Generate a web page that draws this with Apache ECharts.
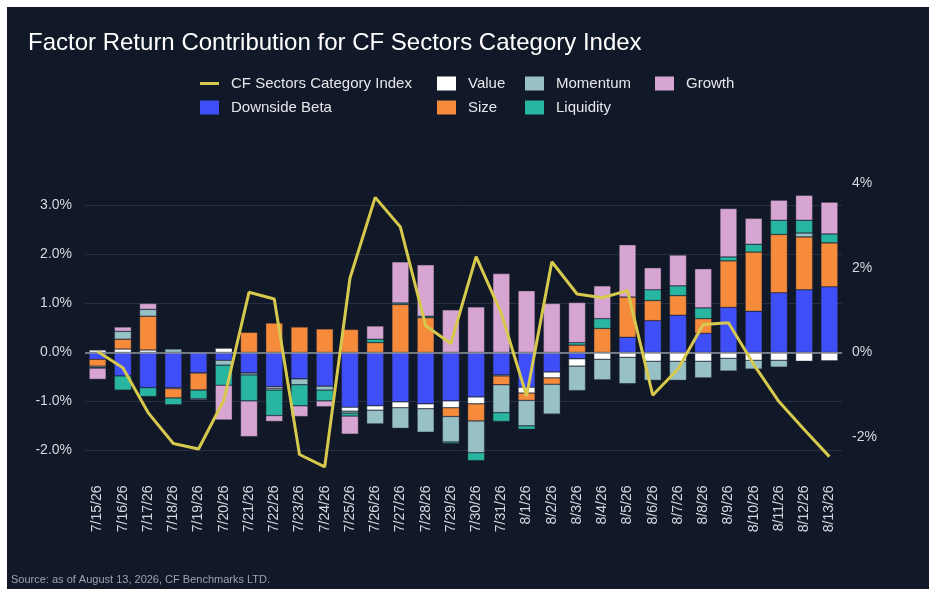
<!DOCTYPE html>
<html>
<head>
<meta charset="utf-8">
<title>Factor Return Contribution</title>
<script src="https://cdn.jsdelivr.net/npm/echarts@6/dist/echarts.min.js"></script>
<style>
  html, body { margin: 0; padding: 0; background: #ffffff; }
  #panel { position: absolute; left: 7px; top: 7px; width: 922px; height: 582px; background: #111827; }
  #chartmain { position: absolute; left: 0; top: 0; width: 936px; height: 598px; }
</style>
</head>
<body>
<div id="panel"></div>
<div id="chartmain"></div>
<script>
// 日期
var dates = ['7/15/26', '7/16/26', '7/17/26', '7/18/26', '7/19/26', '7/20/26', '7/21/26', '7/22/26',
    '7/23/26', '7/24/26', '7/25/26', '7/26/26', '7/27/26', '7/28/26', '7/29/26', '7/30/26', '7/31/26',
    '8/1/26', '8/2/26', '8/3/26', '8/4/26', '8/5/26', '8/6/26', '8/7/26', '8/8/26', '8/9/26',
    '8/10/26', '8/11/26', '8/12/26', '8/13/26'];

// 因子贡献 (%)
var downsideBeta = [-0.14, -0.48, -0.72, -0.72, -0.42, -0.16, -0.42, -0.70, -0.54, -0.69, -1.12, -1.09, -1.01, -1.05, -0.99,
    -0.91, -0.46, -0.71, -0.40, -0.13, 0, 0.31, 0.65, 0.76, 0.39, 0.92, 0.84, 1.22, 1.28, 1.34];
var value = [0.05, 0.07, 0.05, -0.02, 0, 0.09, 0, -0.03, 0, 0, -0.08, -0.09, -0.12, -0.10, -0.14,
    -0.14, -0.02, -0.12, -0.12, -0.15, -0.14, -0.10, -0.18, -0.18, -0.18, -0.12, -0.16, -0.16, -0.18, -0.17];
var size = [-0.14, 0.20, 0.69, -0.19, -0.35, 0, 0.41, 0.60, 0.52, 0.48, 0.47, 0.20, 0.98, 0.71, -0.18,
    -0.35, -0.18, -0.15, -0.13, 0.15, 0.49, 0.82, 0.41, 0.40, 0.30, 0.95, 1.21, 1.19, 1.08, 0.90];
var momentum = [-0.03, 0.16, 0.14, 0.07, 0, -0.10, -0.04, -0.04, -0.12, -0.08, -0.04, -0.28, -0.42, -0.48, -0.52,
    -0.65, -0.57, -0.52, -0.61, -0.50, -0.42, -0.54, -0.39, -0.39, -0.34, -0.26, -0.18, -0.14, 0.08, 0];
var liquidity = [-0.01, -0.29, -0.18, -0.14, -0.18, -0.41, -0.53, -0.52, -0.43, -0.22, -0.06, 0.07, 0.03, 0.03, -0.03,
    -0.16, -0.18, -0.07, -0.01, 0.05, 0.20, -0.01, 0.22, 0.20, 0.22, 0.08, 0.16, 0.29, 0.26, 0.18];
var growth = [-0.23, 0.09, 0.12, 0, -0.02, -0.71, -0.73, -0.12, -0.22, -0.12, -0.37, 0.27, 0.84, 1.05, 0.87,
    0.93, 1.61, 1.26, 1.00, 0.82, 0.67, 1.07, 0.45, 0.63, 0.80, 0.99, 0.53, 0.41, 0.51, 0.65];

// 指数收益 (右轴, %)
var indexReturn = [0.02, -0.36, -1.42, -2.15, -2.28, -1.13, 1.42, 1.26, -2.41, -2.70, 1.75, 3.66, 2.96, 0.63, 0.21,
    2.26, 0.92, -1.03, 2.14, 1.38, 1.29, 1.46, -1.01, -0.39, 0.66, 0.70, -0.28, -1.16, -1.82, -2.46];

var indexName = 'CF Sectors Category Index';
var fontFamily = '"Liberation Sans", Arial, sans-serif';
var labelColor = '#d5d9df';
var lineColor = '#d6c94e';

// 右轴范围, 左轴按比例对齐零线
var rightMin = -3, rightMax = 4;
var ratio = 42.4 / 49;

function barSeries(name, data, color) {
    return {
        name: name,
        type: 'bar',
        stack: 'factor',
        barWidth: 17,
        data: data,
        itemStyle: { color: color, borderColor: 'rgba(40,46,60,0.8)', borderWidth: 0.5 },
        z: 2
    };
}

function legendCol(left, names) {
    return {
        orient: 'vertical',
        left: left,
        top: 76,
        icon: 'rect',
        itemWidth: 19,
        itemHeight: 14,
        itemGap: 9,
        padding: 0,
        data: names,
        itemStyle: { borderWidth: 0 },
        textStyle: { color: '#e5e7eb', fontSize: 15, fontFamily: fontFamily, padding: [0, 0, 0, 7] }
    };
}

var myChart = echarts.init(document.getElementById('chartmain'), null, { renderer: 'canvas' });

var zeroSeries = barSeries('Downside Beta', downsideBeta, '#3f4ff8');
zeroSeries.markLine = {
    silent: true,
    symbol: 'none',
    label: { show: false },
    lineStyle: { color: '#8e949d', width: 1.5, type: 'solid' },
    data: [{ yAxis: 0 }],
    z: 5
};

myChart.setOption({
    backgroundColor: 'transparent',
    animation: false,
    title: {
        text: 'Factor Return Contribution for CF Sectors Category Index',
        left: 28,
        top: 31,
        padding: 0,
        textStyle: { color: '#ffffff', fontSize: 24, fontWeight: 'normal', fontFamily: fontFamily }
    },
    legend: [
        legendCol(200, [{ name: indexName, icon: 'path://M0,0h19v3h-19z', itemStyle: { color: lineColor } }, 'Downside Beta']),
        legendCol(437, ['Value', 'Size']),
        legendCol(525, ['Momentum', 'Liquidity']),
        legendCol(655, ['Growth'])
    ],
    graphic: [{
        type: 'text',
        left: 11,
        top: 574,
        style: {
            text: 'Source: as of August 13, 2026, CF Benchmarks LTD.',
            fill: '#9ca3af',
            fontSize: 11,
            fontFamily: fontFamily
        }
    }],
    grid: { left: 85, right: 94, top: 183, bottom: 118.5 },
    xAxis: {
        type: 'category',
        data: dates,
        axisLine: { show: false, onZero: false },
        axisTick: { show: false },
        axisLabel: { rotate: 90, margin: 6, color: labelColor, fontSize: 14, fontFamily: fontFamily, interval: 0 }
    },
    yAxis: [{
        type: 'value',
        min: rightMin * ratio,
        max: rightMax * ratio,
        splitNumber: 6,
        axisLine: { show: false },
        axisTick: { show: false },
        splitLine: { show: true, showMinLine: false, showMaxLine: false, lineStyle: { color: '#263041', width: 1 } },
        axisLabel: {
            margin: 13,
            color: labelColor,
            fontSize: 14,
            fontFamily: fontFamily,
            formatter: function (v) {
                if (Math.abs(v - Math.round(v)) > 1e-6) { return ''; }
                return Math.round(v).toFixed(1) + '%';
            }
        }
    }, {
        type: 'value',
        min: rightMin,
        max: rightMax,
        interval: 1,
        position: 'right',
        axisLine: { show: false },
        axisTick: { show: false },
        splitLine: { show: false },
        axisLabel: {
            margin: 10,
            color: labelColor,
            fontSize: 14,
            fontFamily: fontFamily,
            formatter: function (v) {
                if (Math.round(v) % 2 !== 0) { return ''; }
                return Math.round(v) + '%';
            }
        }
    }],
    series: [
        {
            name: indexName,
            type: 'line',
            yAxisIndex: 1,
            data: indexReturn,
            symbol: 'none',
            showSymbol: false,
            clip: false,
            lineStyle: { color: lineColor, width: 3 },
            itemStyle: { color: lineColor },
            z: 10
        },
        zeroSeries,
        barSeries('Value', value, '#ffffff'),
        barSeries('Size', size, '#f68b3b'),
        barSeries('Momentum', momentum, '#98c1c6'),
        barSeries('Liquidity', liquidity, '#28b6a1'),
        barSeries('Growth', growth, '#d7a5d1')
    ]
});

window.addEventListener('resize', function () {
    myChart.resize();
});
</script>
</body>
</html>
